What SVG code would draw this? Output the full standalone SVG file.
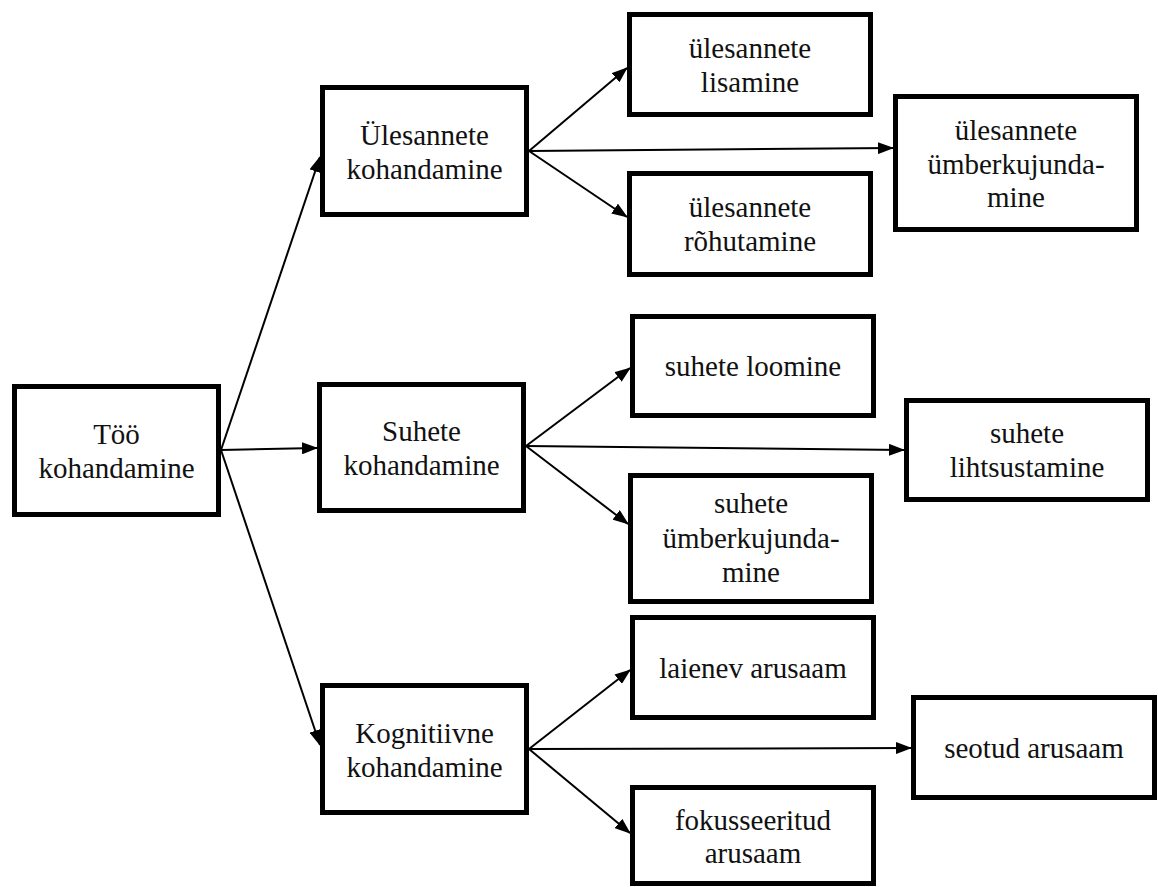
<svg xmlns="http://www.w3.org/2000/svg" width="1158" height="887" viewBox="0 0 1158 887">
<style>
.box{fill:#fff;stroke:#000;stroke-width:5}
.t{font-family:'Liberation Serif','Times New Roman','DejaVu Serif',serif;font-size:29px;fill:#111;text-anchor:middle}
.c{stroke:#000;stroke-width:2;fill:none;marker-end:url(#ah)}
</style>
<defs>
<marker id="ah" markerUnits="userSpaceOnUse" markerWidth="16" markerHeight="12" refX="15" refY="6" orient="auto"><path d="M0,0 L16,6 L0,12 z" fill="#000"/></marker>
</defs>
<rect width="1158" height="887" fill="#fff"/>
<g id="connectors">
<line class="c" x1="221" y1="450" x2="320" y2="157"/>
<line class="c" x1="221" y1="450" x2="317" y2="448"/>
<line class="c" x1="221" y1="450" x2="320" y2="745"/>
<line class="c" x1="529" y1="151" x2="627" y2="68"/>
<line class="c" x1="529" y1="151" x2="893" y2="148"/>
<line class="c" x1="529" y1="151" x2="627" y2="217"/>
<line class="c" x1="526" y1="446" x2="630" y2="368"/>
<line class="c" x1="526" y1="446" x2="904" y2="450"/>
<line class="c" x1="526" y1="446" x2="628" y2="524"/>
<line class="c" x1="529" y1="749" x2="630" y2="670"/>
<line class="c" x1="529" y1="749" x2="911" y2="748"/>
<line class="c" x1="529" y1="749" x2="630" y2="833"/>
</g>
<g id="too"><rect class="box" x="14.5" y="386.5" width="204" height="128"/><text class="t" x="116.5" y="444">Töö</text><text class="t" x="116.5" y="478">kohandamine</text></g>
<g id="ulesannete"><rect class="box" x="322.5" y="87.5" width="204" height="127"/><text class="t" x="424.5" y="145">Ülesannete</text><text class="t" x="424.5" y="179">kohandamine</text></g>
<g id="suhete"><rect class="box" x="319.5" y="384.5" width="204" height="126"/><text class="t" x="421.5" y="441">Suhete</text><text class="t" x="421.5" y="475">kohandamine</text></g>
<g id="kognitiivne"><rect class="box" x="322.5" y="685.5" width="204" height="127"/><text class="t" x="424.5" y="743">Kognitiivne</text><text class="t" x="424.5" y="777">kohandamine</text></g>
<g id="lisamine"><rect class="box" x="629.5" y="14.5" width="241" height="100"/><text class="t" x="750" y="58">ülesannete</text><text class="t" x="750" y="92">lisamine</text></g>
<g id="rohutamine"><rect class="box" x="629.5" y="173.5" width="241" height="101"/><text class="t" x="750" y="217">ülesannete</text><text class="t" x="750" y="251">rõhutamine</text></g>
<g id="ul-umberkujundamine"><rect class="box" x="895.5" y="96.5" width="241" height="133"/><text class="t" x="1016" y="140">ülesannete</text><text class="t" x="1016" y="174">ümberkujunda-</text><text class="t" x="1016" y="207">mine</text></g>
<g id="loomine"><rect class="box" x="632.5" y="316.5" width="241" height="99"/><text class="t" x="753" y="376">suhete loomine</text></g>
<g id="su-umberkujundamine"><rect class="box" x="630.5" y="475.5" width="241" height="126"/><text class="t" x="751" y="513">suhete</text><text class="t" x="751" y="548">ümberkujunda-</text><text class="t" x="751" y="582">mine</text></g>
<g id="lihtsustamine"><rect class="box" x="906.5" y="400.5" width="241" height="99"/><text class="t" x="1027" y="443">suhete</text><text class="t" x="1027" y="477">lihtsustamine</text></g>
<g id="laienev"><rect class="box" x="632.5" y="617.5" width="241" height="100"/><text class="t" x="753" y="678">laienev arusaam</text></g>
<g id="seotud"><rect class="box" x="913.5" y="697.5" width="241" height="100"/><text class="t" x="1034" y="758">seotud arusaam</text></g>
<g id="fokusseeritud"><rect class="box" x="632.5" y="787.5" width="241" height="96"/><text class="t" x="753" y="830">fokusseeritud</text><text class="t" x="753" y="863">arusaam</text></g>
</svg>
